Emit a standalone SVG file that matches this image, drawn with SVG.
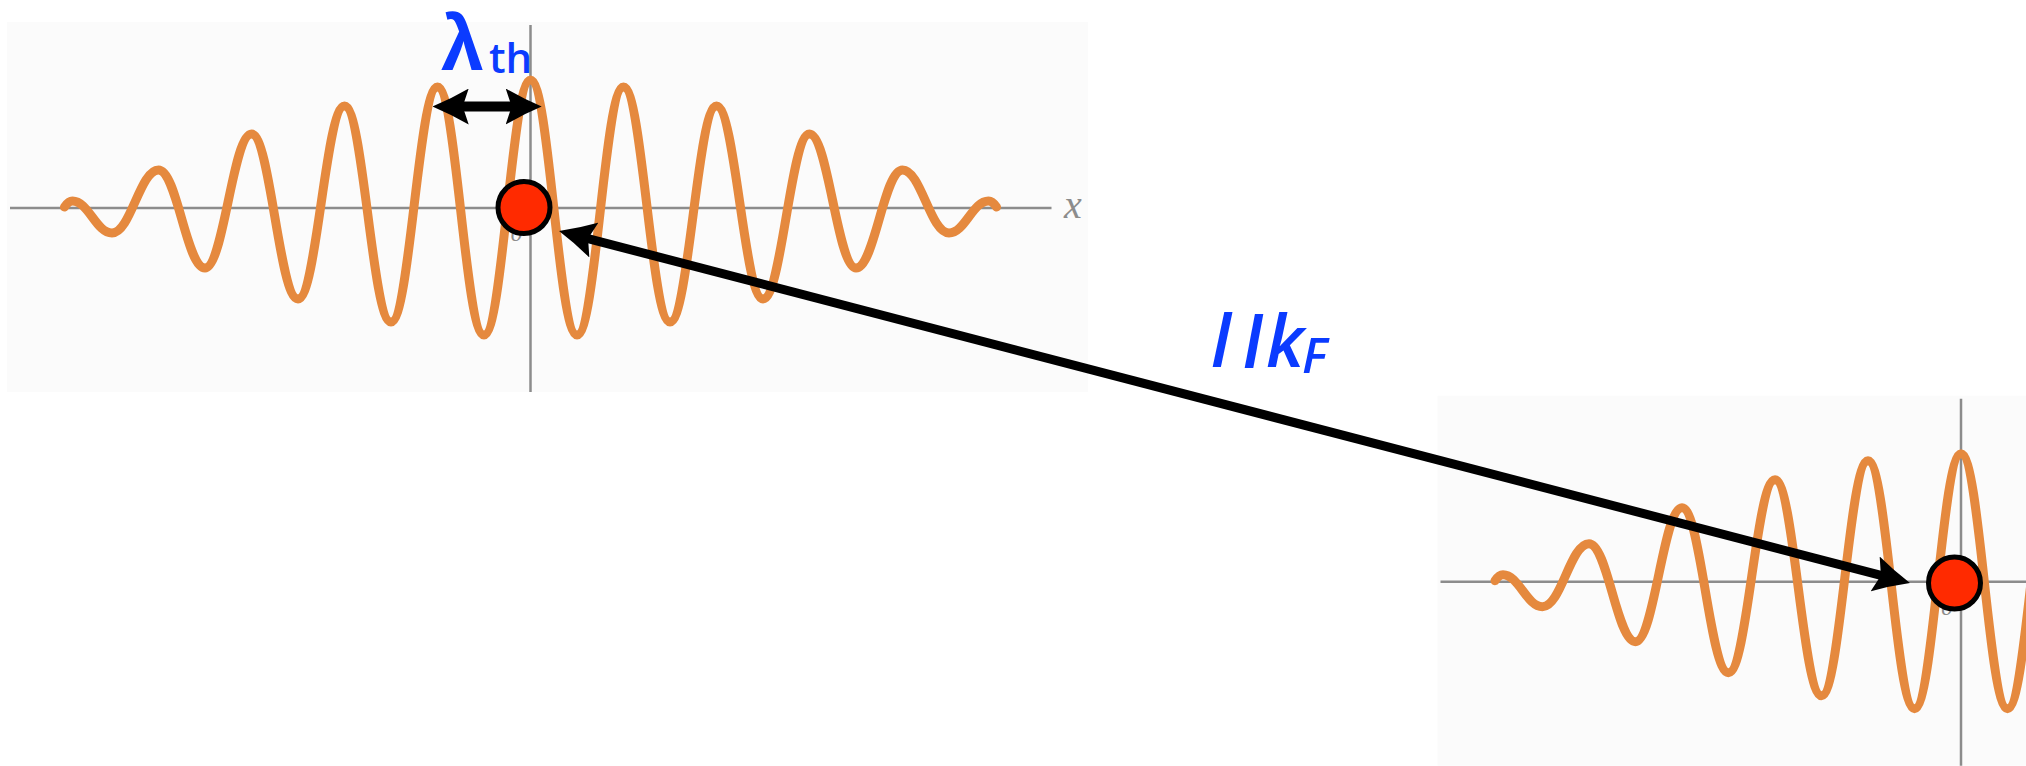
<svg xmlns="http://www.w3.org/2000/svg" width="2026" height="766" viewBox="0 0 2026 766">
<style>
.panel{fill:#FBFBFB}
.axis{stroke:#8C8C8C;stroke-width:2.5;fill:none}
.wave{fill:none;stroke:#E5893E;stroke-width:9;stroke-linecap:round;stroke-linejoin:round}
.tick{font-family:"Liberation Serif",serif;fill:#8C8C8C;font-style:italic}
.lbl{font-family:"Open Sans","DejaVu Sans",sans-serif;fill:#0B3BFF}
.conn{stroke:#000;fill:none}
.dot{fill:#FF2A00;stroke:#000;stroke-width:5}
.head{fill:#000}
</style>
<defs>
<marker id="ah" viewBox="0 -18 36 36" refX="10" refY="0" markerWidth="36" markerHeight="36" markerUnits="userSpaceOnUse" orient="auto-start-reverse">
<path class="head" d="M36,0 Q17,-8 0,-18 L6,0 L0,18 Q17,8 36,0 Z"/>
</marker>
<g id="plot">
<rect class="panel" x="-523.5" y="-186" width="1081" height="370"/>
<path class="axis" d="M-520.5,0 H521"/>
<path class="axis" d="M0,-183 V184"/>
<text class="tick" x="-14" y="33" font-size="24" text-anchor="middle">0</text>
<text class="tick" x="533.5" y="10" font-size="40">x</text>
<path class="wave" d="M-466,-1 Q-462,-7 -458,-7 C-442.2,-7 -434.3,25 -418.5,25 C-399.9,25 -390.6,-38 -372,-38 C-353.4,-38 -344.1,60 -325.5,60 C-306.9,60 -297.6,-74 -279,-74 C-260.4,-74 -251.1,91 -232.5,91 C-213.9,91 -204.6,-102 -186,-102 C-167.4,-102 -158.1,114 -139.5,114 C-120.9,114 -111.6,-121 -93,-121 C-74.4,-121 -65.1,127 -46.5,127 C-27.9,127 -18.6,-128 0,-128 C18.6,-128 27.9,127 46.5,127 C65.1,127 74.4,-121 93,-121 C111.6,-121 120.9,114 139.5,114 C158.1,114 167.4,-102 186,-102 C204.6,-102 213.9,91 232.5,91 C251.1,91 260.4,-74 279,-74 C297.6,-74 306.9,60 325.5,60 C344.1,60 353.4,-38 372,-38 C390.6,-38 399.9,25 418.5,25 C434.3,25 442.2,-7 458,-7 Q462,-7 466,-1"/>
</g>
</defs>
<rect width="2026" height="766" fill="#FFFFFF"/>
<g id="plot-left"><use href="#plot" transform="translate(530.5,208)"/></g>
<g id="plot-right"><use href="#plot" transform="translate(1961,581.7)"/></g>
<g id="connectors">
<line class="conn" x1="458.7" y1="106.5" x2="515.7" y2="106.5" stroke-width="10" marker-start="url(#ah)" marker-end="url(#ah)"/>
<line class="conn" x1="584.2" y1="237.6" x2="1884.8" y2="576.4" stroke-width="9" marker-start="url(#ah)" marker-end="url(#ah)"/>
</g>
<g id="dot-left"><circle class="dot" cx="524" cy="207.5" r="26"/></g>
<g id="dot-right"><circle class="dot" cx="1954.5" cy="583" r="26"/></g>
<g id="label-lambda">
<text class="lbl"><tspan x="441" y="70" font-size="77" font-weight="700" font-family="'Liberation Sans',sans-serif">λ</tspan><tspan x="489" y="73" font-size="42" font-weight="600">th</tspan></text>
</g>
<g id="label-kf">
<text class="lbl" font-weight="600"><tspan x="1211" y="367" font-size="72" font-style="italic">l</tspan><tspan x="1244" y="367" font-size="72" font-weight="700" font-family="'Liberation Sans',sans-serif">/</tspan><tspan x="1266" y="367" font-size="72" font-style="italic">k</tspan><tspan x="1302" y="373" font-size="49" font-style="italic">F</tspan></text>
</g>
</svg>
